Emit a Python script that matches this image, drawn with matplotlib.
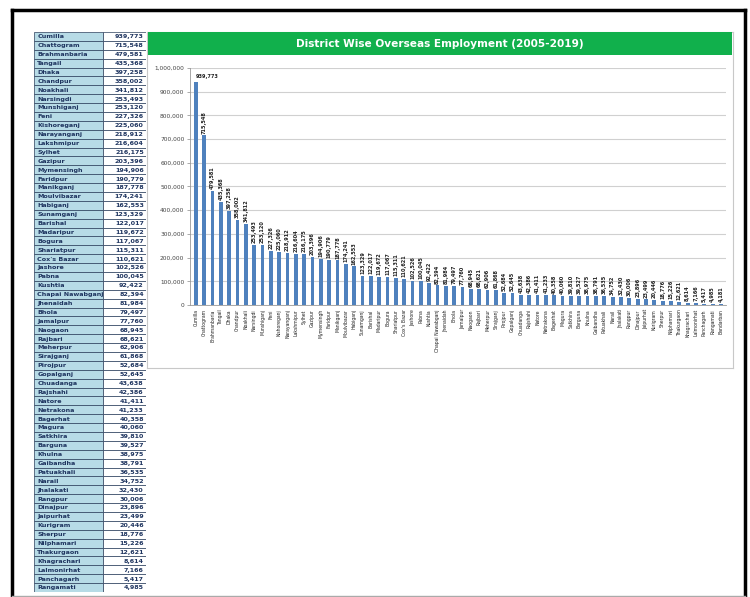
import matplotlib.pyplot as plt
from matplotlib.patches import Rectangle

# District data (table + chart)
districts = ['Cumilla', 'Chattogram', 'Brahmanbaria', 'Tangail', 'Dhaka', 'Chandpur',
             'Noakhali', 'Narsingdi', 'Munshiganj', 'Feni', 'Kishoreganj', 'Narayanganj',
             'Lakshmipur', 'Sylhet', 'Gazipur', 'Mymensingh', 'Faridpur', 'Manikganj',
             'Moulvibazar', 'Habiganj', 'Sunamganj', 'Barishal', 'Madaripur', 'Bogura',
             'Shariatpur', "Cox's Bazar", 'Jashore', 'Pabna', 'Kushtia', 'Chapai Nawabganj',
             'Jhenaidah', 'Bhola', 'Jamalpur', 'Naogaon', 'Rajbari', 'Meherpur', 'Sirajganj',
             'Pirojpur', 'Gopalganj', 'Chuadanga', 'Rajshahi', 'Natore', 'Netrakona',
             'Bagerhat', 'Magura', 'Satkhira', 'Barguna', 'Khulna', 'Gaibandha', 'Patuakhali',
             'Narail', 'Jhalakati', 'Rangpur', 'Dinajpur', 'Jaipurhat', 'Kurigram', 'Sherpur',
             'Nilphamari', 'Thakurgaon', 'Khagrachari', 'Lalmonirhat', 'Panchagarh',
             'Rangamati', 'Bandarban']
workers = [939773, 715548, 479581, 435368, 397258, 358002, 341812, 253493, 253120,
           227326, 225060, 218912, 216604, 216175, 203396, 194906, 190779, 187778,
           174241, 162553, 123329, 122017, 119672, 117067, 115311, 110621, 102526,
           100045, 92422, 82394, 81984, 79497, 77760, 68945, 68621, 62906, 61868,
           52684, 52645, 43638, 42386, 41411, 41233, 40358, 40060, 39810, 39527,
           38975, 38791, 36535, 34752, 32430, 30006, 23896, 23499, 20446, 18776,
           15226, 12621, 8614, 7166, 5417, 4985, 4181]
table_rows = 63  # the last district is cut off at the bottom of the table

W, H = 750, 597
fig = plt.figure(figsize=(7.5, 5.97), dpi=100)


def fbox(x0, y0, x1, y1):
    # pixel box (top-left origin) -> figure rect
    return [x0 / W, 1 - y1 / H, (x1 - x0) / W, (y1 - y0) / H]


# outer frame
frame = fig.add_axes(fbox(12, 10, 745, 596))
frame.set_xticks([])
frame.set_yticks([])
for s in frame.spines.values():
    s.set_linewidth(2.5)
    s.set_color('black')
frame.spines['bottom'].set_color('#aaaaaa')
frame.spines['bottom'].set_linewidth(1)
frame.patch.set_alpha(0)

# ---- table on the left ----
tax = fig.add_axes(fbox(34, 32, 146, 592))
tax.set_xlim(0, 1)
tax.set_ylim(table_rows, 0)
tax.axis('off')
split = 0.62
for i in range(table_rows):
    tax.add_patch(Rectangle((0, i), split, 1, facecolor='#b7dbe6', edgecolor='#2b3f5c', lw=0.5))
    tax.add_patch(Rectangle((split, i), 1 - split, 1, facecolor='white', edgecolor='#2b3f5c', lw=0.5))
    tax.text(0.03, i + 0.55, districts[i], fontsize=4.6, fontweight='bold',
             color='#1f3560', va='center', ha='left')
    tax.text(0.98, i + 0.55, f'{workers[i]:,}', fontsize=4.6, fontweight='bold',
             color='#1f3560', va='center', ha='right')

# ---- chart box ----
box = fig.add_axes(fbox(147, 32, 733, 368))
box.set_xticks([])
box.set_yticks([])
for s in box.spines.values():
    s.set_color('#c8c8c8')
    s.set_linewidth(0.8)

title = fig.add_axes(fbox(148, 32, 732, 55))
title.set_xticks([])
title.set_yticks([])
title.set_facecolor('#11b04c')
for s in title.spines.values():
    s.set_visible(False)
title.text(0.5, 0.48, 'District Wise Overseas Employment (2005-2019)', color='white',
           fontsize=7.6, fontweight='bold', ha='center', va='center',
           transform=title.transAxes)

ax = fig.add_axes(fbox(190, 68, 726, 305))
x = range(len(districts))
ax.bar(x, workers, width=0.45, color='#4f81bd', zorder=3)
ax.set_ylim(0, 1000000)
ax.set_xlim(-0.7, len(districts) - 0.4)
ax.set_yticks(range(0, 1000001, 100000))
ax.set_yticklabels([f'{v:,}' for v in range(0, 1000001, 100000)], fontsize=4.2, color='#444444')
ax.set_xticks(list(x))
ax.set_xticklabels(districts, rotation=90, fontsize=3.3, color='#222222')
ax.tick_params(axis='y', length=2, width=0.5, color='#888888', pad=2)
ax.tick_params(axis='x', length=0, pad=3)
ax.grid(axis='y', color='#d0d0d0', linewidth=0.8, zorder=0)
for side in ['top', 'right']:
    ax.spines[side].set_visible(False)
for side in ['left', 'bottom']:
    ax.spines[side].set_color('#999999')
    ax.spines[side].set_linewidth(0.6)

for i, v in enumerate(workers):
    if i == 0:
        ax.text(i, v + 12000, f'{v:,}', fontsize=3.6, fontweight='bold',
                ha='left', va='bottom', color='#222222')
    else:
        ax.text(i, v + 8000, f'{v:,}', fontsize=3.6, fontweight='bold', rotation=90,
                ha='center', va='bottom', color='#222222')

fig.savefig('out.png', dpi=100)
